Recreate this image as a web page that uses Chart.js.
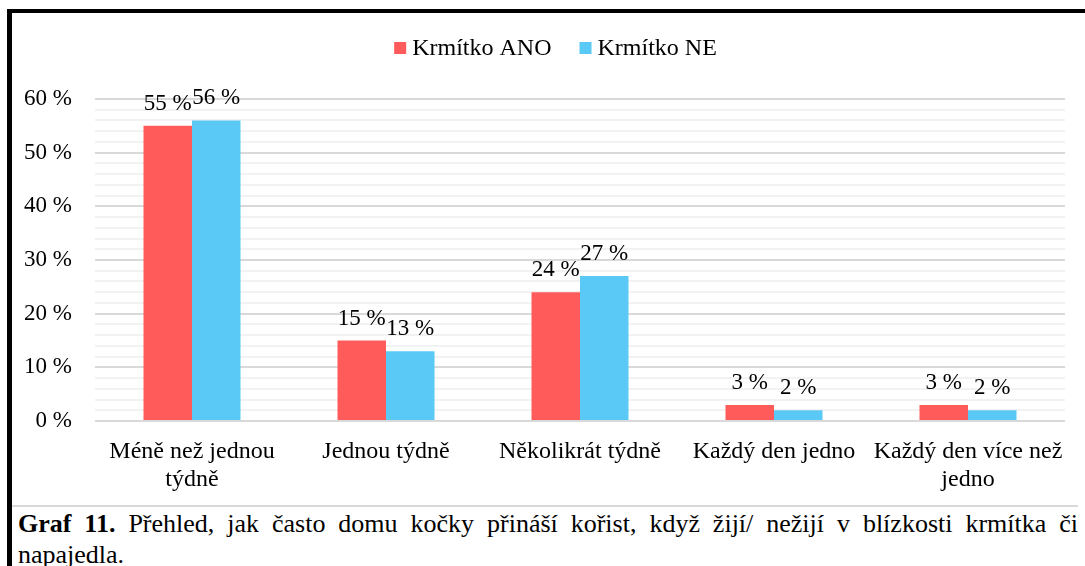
<!DOCTYPE html>
<html>
<head>
<meta charset="utf-8">
<script src="https://cdn.jsdelivr.net/npm/chart.js@4/dist/chart.umd.min.js"></script>
<style>
  html, body { margin: 0; padding: 0; background: #fff; }
  body { width: 1085px; height: 566px; position: relative; overflow: hidden; }
  #frame {
    position: absolute; left: 7px; top: 9px; width: 1100px; height: 600px;
    border-left: 5px solid #000; border-top: 4px solid #000;
  }
  #chartBox { position: absolute; left: 0; top: 0; width: 1073px; height: 492px; }
  #rule { position: absolute; left: 0; top: 492px; width: 1066px; height: 2px; background: #d9d9d9; }
  #caption {
    position: absolute; left: 6px; top: 495px; width: 1060px;
    font-family: "Liberation Serif", "Times New Roman", serif; font-size: 26px;
    line-height: 31px; color: #000;
  }
  #caption .full { text-align: justify; text-align-last: justify; }
</style>
</head>
<body>
<div id="frame">
  <div id="chartBox"><canvas id="chart"></canvas></div>
  <div id="rule"></div>
  <div id="caption">
    <div class="full"><b>Graf 11.</b> Přehled, jak často domu kočky přináší kořist, když žijí/ nežijí v&nbsp;blízkosti krmítka či</div>
    <div>napajedla.</div>
  </div>
</div>
<script>
const categories = [
  ['Méně než jednou', 'týdně'],
  'Jednou týdně',
  'Několikrát týdně',
  'Každý den jedno',
  ['Každý den více než', 'jedno']
];
const seriesNames = ['Krmítko ANO', 'Krmítko NE'];
const seriesColors = ['#FF5B5B', '#5BC9F5'];
const valuesAno = [55, 15, 24, 3, 3];
const valuesNe = [56, 13, 27, 2, 2];
const yMajorTicks = [0, 10, 20, 30, 40, 50, 60];

const fontFamily = '"Liberation Serif", "Times New Roman", serif';
const textColor = '#000';

// draws "NN %" above every bar
const barLabelPlugin = {
  id: 'barLabels',
  afterDatasetsDraw: (chart) => {
    const ctx = chart.ctx;
    ctx.save();
    ctx.font = '23px ' + fontFamily;
    ctx.fillStyle = textColor;
    ctx.textAlign = 'center';
    ctx.textBaseline = 'alphabetic';
    chart.data.datasets.forEach((ds, i) => {
      chart.getDatasetMeta(i).data.forEach((bar, j) => {
        ctx.fillText(ds.data[j] + ' %', bar.x, bar.y - 16);
      });
    });
    ctx.restore();
  }
};

// legend drawn by hand so it can sit close to the frame top
const legendPlugin = {
  id: 'topLegend',
  afterDraw: (chart) => {
    const ctx = chart.ctx;
    ctx.save();
    ctx.font = '24px ' + fontFamily;
    ctx.textBaseline = 'middle';
    ctx.textAlign = 'left';
    const box = 12, gapText = 6, gapItem = 28;
    const widths = chart.data.datasets.map(ds => box + gapText + ctx.measureText(ds.label).width);
    const total = widths.reduce((a, b) => a + b, 0) + gapItem * (widths.length - 1);
    let x = chart.width / 2 + 7 - total / 2;
    const y = 35;
    chart.data.datasets.forEach((ds, i) => {
      ctx.fillStyle = ds.backgroundColor;
      ctx.fillRect(x, y - box / 2, box, box);
      ctx.fillStyle = textColor;
      ctx.fillText(ds.label, x + box + gapText, y + 1);
      x += widths[i] + gapItem;
    });
    ctx.restore();
  }
};

new Chart(document.getElementById('chart'), {
  type: 'bar',
  data: {
    labels: categories,
    datasets: [{
      label: seriesNames[0],
      data: valuesAno,
      backgroundColor: seriesColors[0],
      categoryPercentage: 0.5,
      barPercentage: 1.0
    }, {
      label: seriesNames[1],
      data: valuesNe,
      backgroundColor: seriesColors[1],
      categoryPercentage: 0.5,
      barPercentage: 1.0
    }]
  },
  options: {
    responsive: true,
    maintainAspectRatio: false,
    animation: false,
    layout: {
      padding: {top: 86, right: 20, bottom: 0, left: 0}
    },
    plugins: {
      legend: {display: false},
      tooltip: {enabled: false}
    },
    scales: {
      x: {
        grid: {display: false},
        border: {display: false},
        ticks: {
          color: textColor,
          padding: 9,
          font: {family: fontFamily, size: 24, lineHeight: 1.15},
          maxRotation: 0
        },
        afterFit: (scale) => { scale.height = 84; }
      },
      y: {
        min: 0,
        max: 60,
        border: {display: false},
        grid: {
          drawTicks: false,
          lineWidth: 2,
          color: (c) => yMajorTicks.includes(c.tick.value) ? '#d9d9d9' : '#f2f2f2'
        },
        ticks: {
          stepSize: 2,
          autoSkip: false,
          padding: 23,
          color: textColor,
          font: {family: fontFamily, size: 23},
          callback: (v) => yMajorTicks.includes(v) ? v + ' %' : ''
        },
        afterFit: (scale) => { scale.width = 83; }
      }
    }
  },
  plugins: [barLabelPlugin, legendPlugin]
});
</script>
</body>
</html>
